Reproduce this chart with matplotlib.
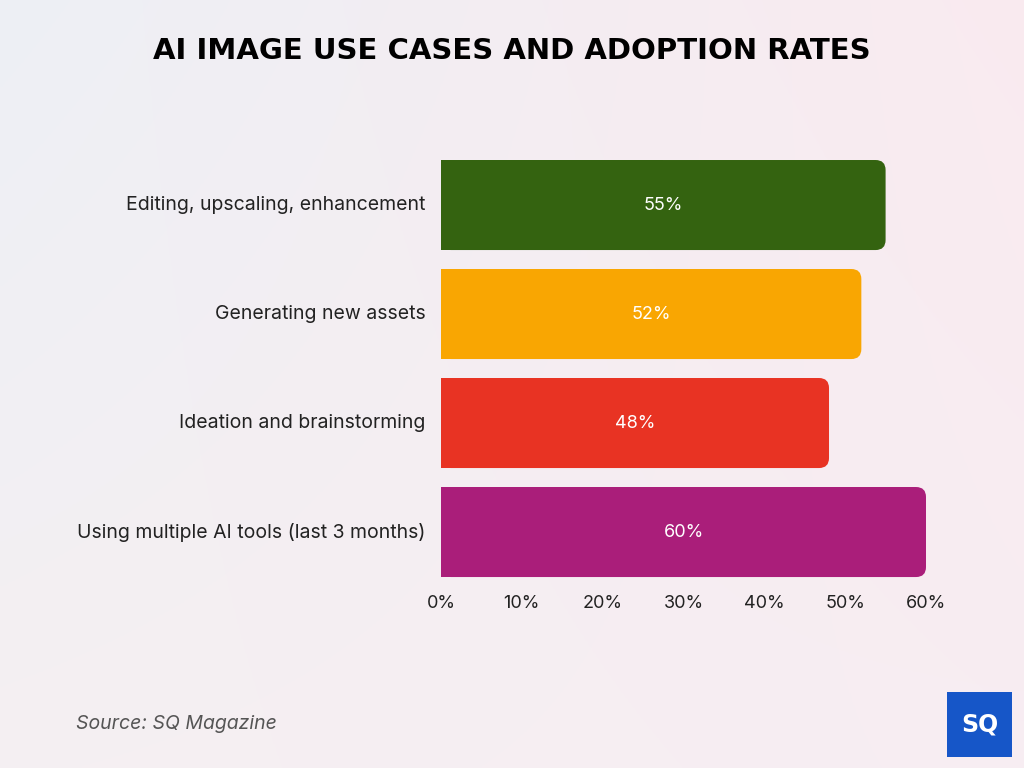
import numpy as np
import matplotlib
matplotlib.use("Agg")
import matplotlib.pyplot as plt
from matplotlib.patches import FancyBboxPatch, Rectangle
from matplotlib.ticker import FuncFormatter

categories = [
    "Editing, upscaling, enhancement",
    "Generating new assets",
    "Ideation and brainstorming",
    "Using multiple AI tools (last 3 months)",
]
values = [55, 52, 48, 60]
colors = ["#346310", "#F9A602", "#E83323", "#AA1E7A"]
ticks = [0, 10, 20, 30, 40, 50, 60]

plt.rcParams["font.family"] = ["Inter", "DejaVu Sans"]

fig = plt.figure(figsize=(10.24, 7.68), dpi=100)

# background gradient
bg = fig.add_axes([0, 0, 1, 1], zorder=-10)
gx = np.linspace(0, 1, 256)
gy = np.linspace(0, 1, 256)
X, Y = np.meshgrid(gx, gy)
c_tl = np.array([0.93, 0.94, 0.96])
c_tr = np.array([0.98, 0.92, 0.94])
c_bl = np.array([0.96, 0.94, 0.95])
c_br = np.array([0.97, 0.93, 0.95])
img = (c_tl * ((1 - X) * (1 - Y))[..., None] + c_tr * (X * (1 - Y))[..., None]
       + c_bl * ((1 - X) * Y)[..., None] + c_br * (X * Y)[..., None])
bg.imshow(img, aspect="auto", extent=[0, 1, 0, 1], origin="upper")
bg.axis("off")

ax = fig.add_axes([0.4307, 0.2363, 0.4736, 0.5677])
ax.set_facecolor("none")
ypos = np.arange(len(categories))
bars = ax.barh(ypos, values, height=0.826, color=colors)
ax.set_xlim(0, 60)
ax.set_ylim(len(categories) - 0.5, -0.5)

# rounded right corners
px_x = 0.4736 * 1024 / 60.0
px_y = 0.5677 * 768 / 4.0
r = 10 / px_x
aspect = px_x / px_y
for b, c in zip(bars, colors):
    x, y, w, h = b.get_x(), b.get_y(), b.get_width(), b.get_height()
    b.set_visible(False)
    ax.add_patch(FancyBboxPatch((x, y), w, h,
                                boxstyle=f"round,pad=0,rounding_size={r}",
                                mutation_aspect=aspect, fc=c, ec="none"))
    ax.add_patch(Rectangle((x, y), w / 2, h, fc=c, ec="none"))
    ax.text(w / 2, y + h / 2, f"{w:.0f}%", ha="center", va="center",
            color="white", fontsize=13)

ax.set_yticks(ypos)
ax.set_yticklabels(categories, fontsize=14, color="#222222", va="center")
ax.set_xticks(ticks)
ax.xaxis.set_major_formatter(FuncFormatter(lambda v, p: f"{v:.0f}%"))
ax.tick_params(axis="x", labelsize=13, length=0, pad=6, colors="#222222")
ax.tick_params(axis="y", length=0, pad=11)
for s in ax.spines.values():
    s.set_visible(False)

fig.text(0.5, 0.934, "AI IMAGE USE CASES AND ADOPTION RATES", ha="center",
         va="center", fontsize=21, fontweight="heavy", family="DejaVu Sans",
         color="black")
fig.text(0.074, 0.057, "Source: SQ Magazine", fontsize=14, style="italic",
         color="#555555", ha="left", va="center")

# logo
lg = fig.add_axes([947 / 1024, 1 - 757 / 768, 65 / 1024, 65 / 768])
lg.add_patch(Rectangle((0, 0), 1, 1, fc="#1656C8", ec="none"))
lg.text(0.5, 0.5, "SQ", ha="center", va="center", color="white",
        fontsize=17, fontweight="bold", family="DejaVu Sans")
lg.set_xlim(0, 1)
lg.set_ylim(0, 1)
lg.axis("off")

fig.savefig("out.png", dpi=100)
